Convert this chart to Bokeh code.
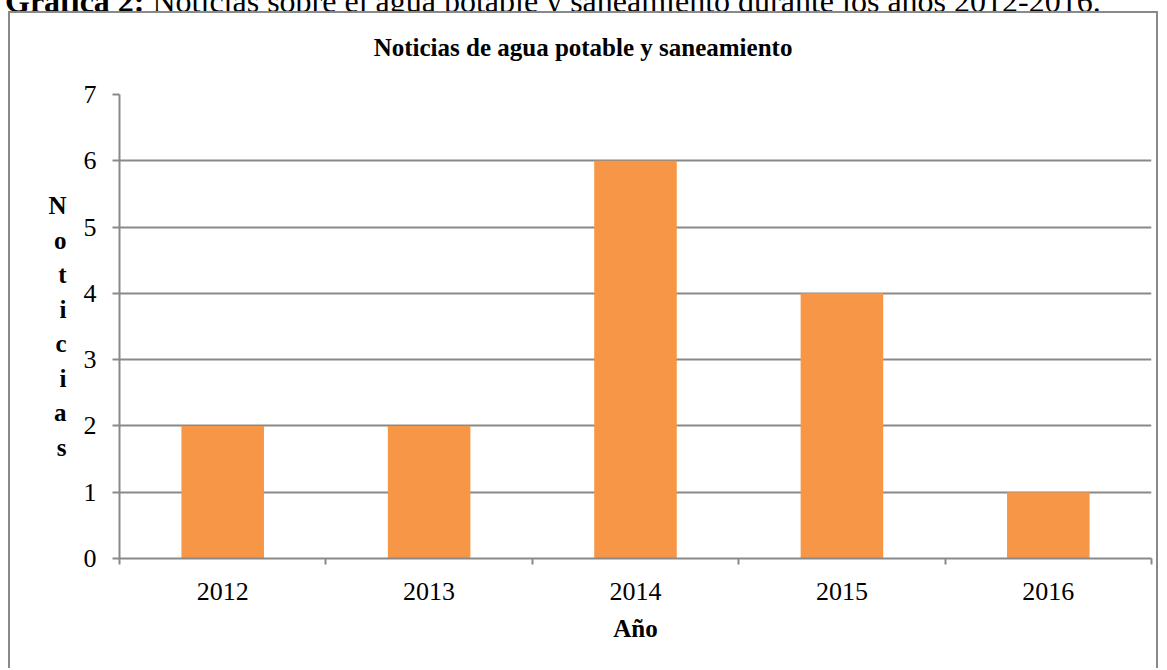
from bokeh.plotting import figure
from bokeh.models import Div, FixedTicker, Range1d, ColumnDataSource, NumeralTickFormatter
from bokeh.layouts import column
from bokeh.embed import file_html
from bokeh.resources import INLINE

# ---- data ----
years = [2012, 2013, 2014, 2015, 2016]
counts = [2, 2, 6, 4, 1]
y_ticks = [0, 1, 2, 3, 4, 5, 6, 7]
title_text = "Noticias de agua potable y saneamiento"
x_label = "Año"
y_label = "Noticias"
caption_bold = "Gráfica 2:"
caption_rest = " Noticias sobre el agua potable y saneamiento durante los años 2012-2016."

# ---- style ----
SERIF = "Liberation Serif"
GRAY = "#898989"
ORANGE = "#F79646"
W = 1146
TITLE_H = 60

src = ColumnDataSource(dict(x=years, top=counts))

p = figure(width=W, height=655 - TITLE_H,
           x_range=Range1d(years[0] - 0.5, years[-1] + 0.5),
           y_range=Range1d(y_ticks[0], y_ticks[-1]),
           output_backend="svg", toolbar_location=None,
           min_border_left=109, min_border_right=5, min_border_top=81 - TITLE_H,
           min_border_bottom=110)
p.outline_line_color = None
p.vbar(x="x", top="top", width=0.4, source=src, fill_color=ORANGE, line_color=None)

# x axis: labels at year centres, ticks at category boundaries
xa = p.xaxis[0]
xa.ticker = FixedTicker(ticks=years, minor_ticks=[y - 0.5 for y in years] + [years[-1] + 0.5])
xa.formatter = NumeralTickFormatter(format="0")
xa.major_tick_out = 0
xa.major_tick_in = 0
xa.minor_tick_out = 6
xa.minor_tick_in = 0
xa.minor_tick_line_color = GRAY
xa.minor_tick_line_width = 2
xa.axis_line_color = GRAY
xa.axis_line_width = 2
xa.major_label_text_font = SERIF
xa.major_label_text_font_size = "26px"
xa.major_label_text_color = "black"
xa.major_label_standoff = 18
xa.axis_label = x_label
xa.axis_label_text_font = SERIF
xa.axis_label_text_font_style = "bold"
xa.axis_label_text_font_size = "25px"
xa.axis_label_text_color = "black"
xa.axis_label_standoff = 12

ya = p.yaxis[0]
ya.ticker = FixedTicker(ticks=y_ticks, minor_ticks=[])
ya.major_tick_out = 7
ya.major_tick_in = 0
ya.major_tick_line_color = GRAY
ya.major_tick_line_width = 2
ya.axis_line_color = GRAY
ya.axis_line_width = 2
ya.major_label_text_font = SERIF
ya.major_label_text_font_size = "26px"
ya.major_label_text_color = "black"
ya.major_label_standoff = 16
# stacked (one letter per line) y-axis label
ya.axis_label = "\n".join(y_label)
ya.axis_label_orientation = "horizontal"
ya.axis_label_text_font = SERIF
ya.axis_label_text_font_style = "bold"
ya.axis_label_text_font_size = "25px"
ya.axis_label_text_color = "black"
ya.axis_label_text_line_height = 1.28
ya.axis_label_text_align = "center"
ya.axis_label_standoff = 14

p.xgrid.grid_line_color = None
p.ygrid.grid_line_color = GRAY
p.ygrid.grid_line_width = 2

title_html = (f'<div style="font-family:{SERIF}; font-size:25px; font-weight:bold; '
              f'line-height:30px; text-align:center; color:black; padding-top:20px; '
              f'width:{W}px;">{title_text}</div>')
title_div = Div(text=title_html, width=W, height=TITLE_H, margin=(0, 0, 0, 0))

box = column(title_div, p, spacing=0, margin=(0, 0, 0, 8),
             styles={"border-top": f"2px solid {GRAY}", "border-left": f"2px solid {GRAY}",
                     "border-right": f"2px solid {GRAY}", "background": "white"})

cap_html = (f'<div style="font-family:{SERIF}; font-size:32px; line-height:36px; '
            f'white-space:nowrap; color:black; margin-top:-25px; margin-left:-3px;">'
            f'<b>{caption_bold}</b>{caption_rest}</div>')
cap = Div(text=cap_html, width=1150, height=11, margin=(0, 0, 0, 8),
          styles={"overflow": "visible"})

layout = column(cap, box, spacing=0)
open("out.html", "w").write(file_html(layout, INLINE))
